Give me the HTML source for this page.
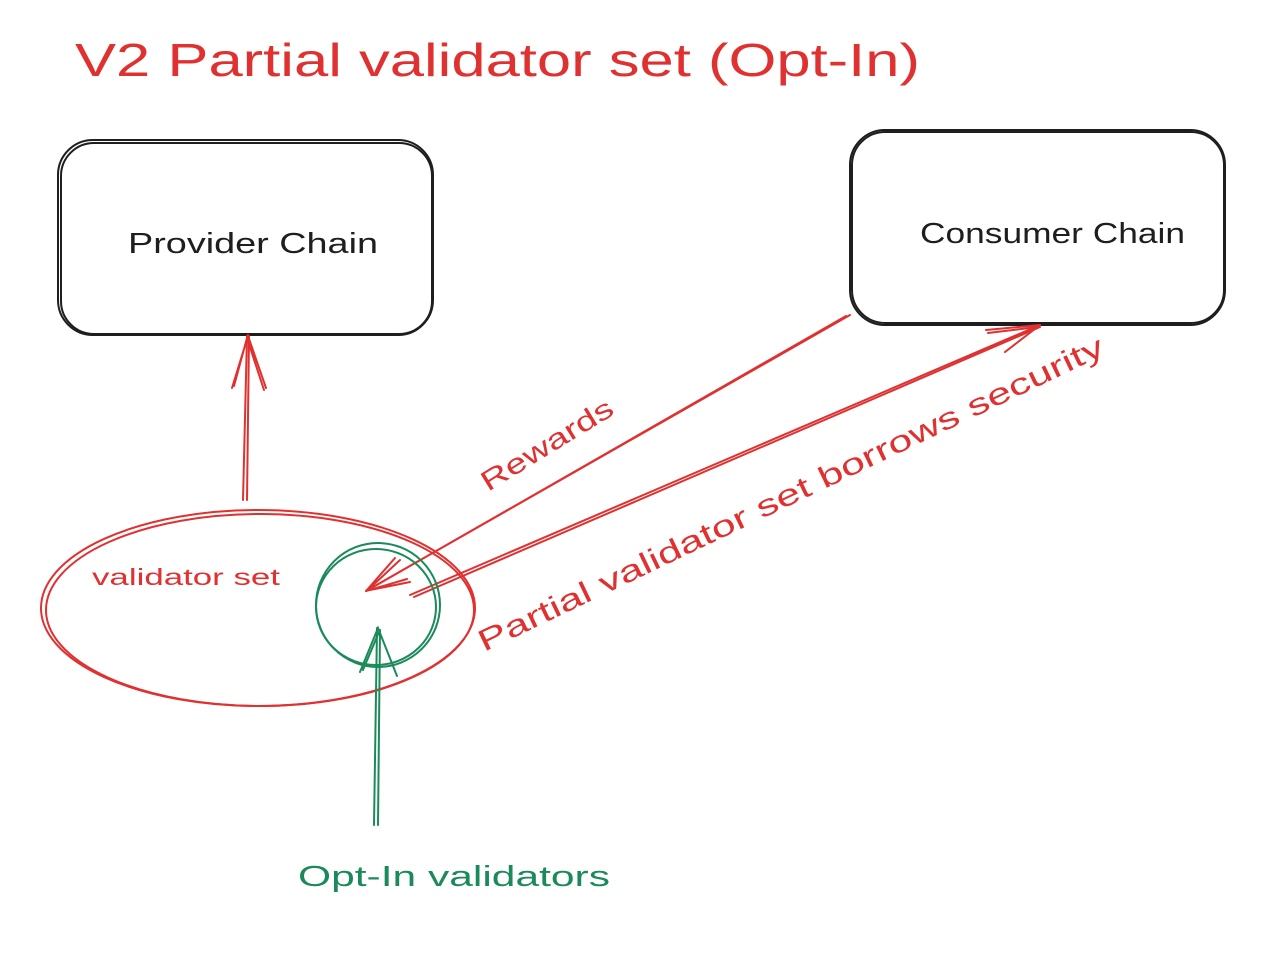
<!DOCTYPE html>
<html><head><meta charset="utf-8"><style>
html,body{margin:0;padding:0;background:#fff;width:1270px;height:960px;overflow:hidden}
svg{display:block}
text{font-family:"Liberation Sans",sans-serif}
</style></head><body>
<svg width="1270" height="960" viewBox="0 0 1270 960" xmlns="http://www.w3.org/2000/svg">
<rect width="1270" height="960" fill="#fff"/>
<text x="75" y="76" font-size="46" fill="#e03131" textLength="845" lengthAdjust="spacingAndGlyphs">V2 Partial validator set (Opt-In)</text>

<g fill="none" stroke="#1e1e1e" stroke-width="2">
<rect x="58" y="140" width="375" height="195" rx="35"/>
<rect x="61" y="143" width="371" height="191" rx="33"/>
<rect x="850" y="130" width="375" height="195" rx="35"/>
<rect x="852" y="132" width="372" height="191" rx="33"/>
</g>
<text x="128" y="253" font-size="29" fill="#1e1e1e" textLength="250" lengthAdjust="spacingAndGlyphs">Provider Chain</text>
<text x="920" y="243" font-size="29" fill="#1e1e1e" textLength="265" lengthAdjust="spacingAndGlyphs">Consumer Chain</text>

<g fill="none" stroke="#e03131" stroke-width="2" stroke-linecap="round">
<path d="M243 500 L247 336 M247 500 L249 336"/>
<path d="M232 388 L248 336 L266 388 M234 386 L247 338 L264 390"/>
<ellipse cx="258" cy="608" rx="217" ry="98"/>
<ellipse cx="260" cy="610" rx="214" ry="96"/>
<path d="M850 315 L366 591 M846 316 L368 590"/>
<path d="M366 591 L395 558 M366 591 L407 579 M370 588 L400 560 M370 590 L410 582"/>
<path d="M410 595 L1040 325 M414 597 L1040 327"/>
<path d="M1040 325 L986 330 M1040 325 L1005 352 M1038 327 L988 333"/>
</g>
<text x="92" y="585" font-size="23" fill="#e03131" textLength="188" lengthAdjust="spacingAndGlyphs">validator set</text>
<text transform="translate(488,492) rotate(-31.6)" font-size="28" fill="#e03131" textLength="150" lengthAdjust="spacingAndGlyphs">Rewards</text>
<text transform="translate(484,652) rotate(-25.6)" font-size="30" fill="#e03131" textLength="690" lengthAdjust="spacingAndGlyphs">Partial validator set borrows security</text>

<g fill="none" stroke="#1b8a5a" stroke-width="2" stroke-linecap="round">
<circle cx="378" cy="605" r="62"/>
<ellipse cx="376" cy="607" rx="60" ry="58"/>
<path d="M374 825 L377 628 M378 825 L380 630"/>
<path d="M360 672 L378 628 L397 676 M363 670 L379 632"/>
</g>
<text x="298" y="886" font-size="29" fill="#1b8a5a" textLength="312" lengthAdjust="spacingAndGlyphs">Opt-In validators</text>
</svg>
</body></html>
